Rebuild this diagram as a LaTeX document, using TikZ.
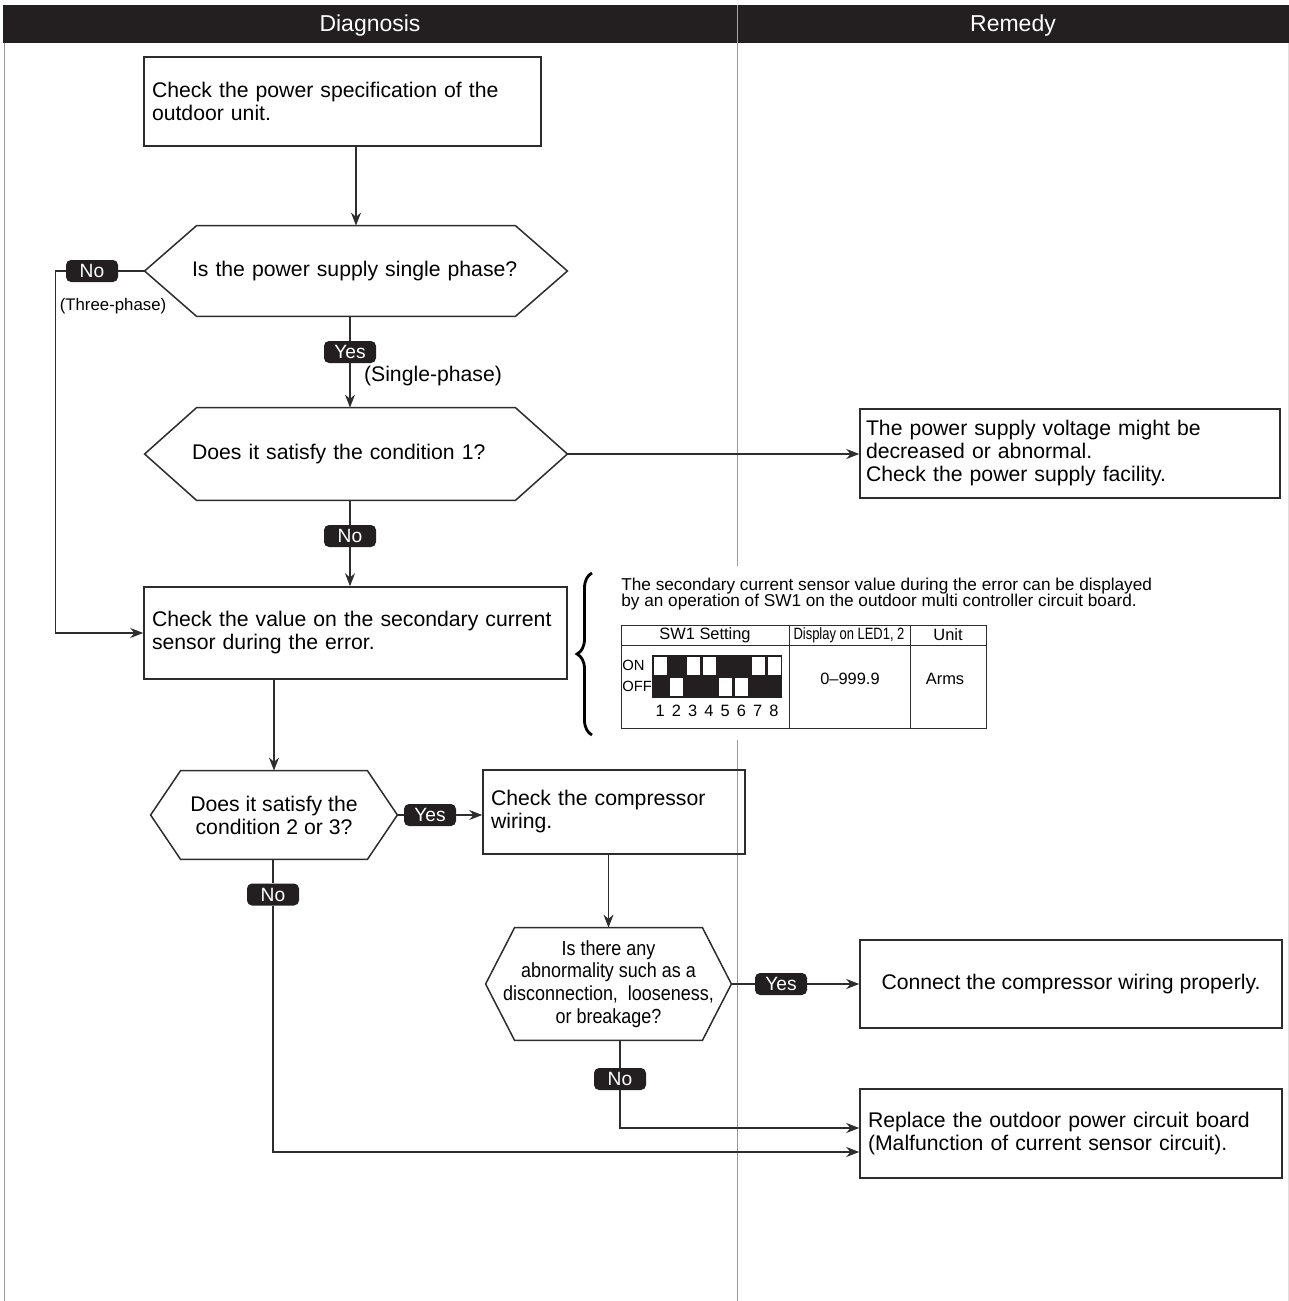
\documentclass[tikz,border=0pt]{standalone}
\usepackage{fontspec}
\setmainfont{Liberation Sans}
\newfontfamily\condfont[FakeStretch=0.88]{Liberation Sans}
\usetikzlibrary{arrows.meta, positioning, calc, decorations.pathreplacing}
\definecolor{hdrblack}{RGB}{35,31,32}
\definecolor{lineclr}{RGB}{45,45,45}

\begin{document}
\begin{tikzpicture}[x=0.5pt, y=-0.5pt, every node/.style={font=\fontsize{10.6}{11.5}\selectfont}]
    \tikzset{box/.style={rectangle, draw=lineclr, line width=0.75pt, inner xsep=4pt, align=left},
             hexa/.style={inner sep=0pt, align=left},
             badge/.style={rectangle, rounded corners=2.5pt, fill=hdrblack, text=white,
                           minimum width=26pt, minimum height=11pt, inner sep=0pt,
                           font=\fontsize{9.6}{10}\selectfont},
             arr/.style={-{Stealth[length=6.5pt, width=5pt]}, line width=0.6pt, draw=lineclr},
             lnk/.style={line width=0.6pt, draw=lineclr},
             tbl/.style={inner sep=0pt, font=\fontsize{8.2}{9}\selectfont}}
    \useasboundingbox (0,0) rectangle (1289,1301);
    % header and columns
    \fill[hdrblack] (3,5) rectangle (1289,43);
    \draw[gray!70, line width=0.4pt] (737,5) -- (737,43);
    \draw[gray!80, line width=0.5pt] (4,43) -- (4,1301);
    \draw[gray!25, line width=0.5pt] (1288,43) -- (1288,1301);
    \draw[gray!80, line width=0.5pt] (737,43) -- (737,566) (737,740) -- (737,1301);
    \node[text=white, font=\fontsize{11.5}{12}\selectfont] (diag) at (370,26) {Diagnosis};
    \node[text=white, font=\fontsize{11.5}{12}\selectfont] (remedy) at (1013,26) {Remedy};

    % diagnosis side
    \node[box, text width=190.5pt, minimum height=44.5pt] (spec) at (342.5,101.5)
        {Check the power specification of the\\outdoor unit.};
    \node[hexa, text width=164pt, minimum width=211pt, minimum height=45pt] (phase) at (356,271)
        {Is the power supply single phase?};
    \node[hexa, text width=164pt, minimum width=211pt, minimum height=46pt] (cond1) at (356,454)
        {Does it satisfy the condition 1?};
    \node[box, text width=203.5pt, minimum height=46pt] (sensor) at (355.5,633)
        {Check the value on the secondary current\\sensor during the error.};
    \node[hexa, align=center, minimum width=123pt, minimum height=44pt] (cond23) at (274,815)
        {Does it satisfy the\\condition 2 or 3?};
    \node[box, text width=123pt, minimum height=42pt] (wiring) at (614,812)
        {Check the compressor\\wiring.};
    \node[hexa, align=center, minimum width=122.5pt, minimum height=56pt,
          font=\condfont\fontsize{10.2}{11.3}\selectfont] (abnorm) at (608.5,984)
        {Is there any\\abnormality such as a\\disconnection,\ \ looseness,\\or breakage?};
    \foreach \n/\s in {phase/26pt, cond1/26pt, cond23/15pt, abnorm/14.5pt}
      \draw[draw=lineclr, line width=0.75pt] (\n.west) -- ([xshift=\s]\n.north west)
        -- ([xshift=-\s]\n.north east) -- (\n.east) -- ([xshift=-\s]\n.south east)
        -- ([xshift=\s]\n.south west) -- cycle;

    % remedy side
    \node[box, inner xsep=3pt, text width=204pt, minimum height=44.5pt] (volt) at (1070,453.5)
        {The power supply voltage might be\\decreased or abnormal.\\Check the power supply facility.};
    \node[box, align=center, minimum width=211pt, minimum height=44pt] (connect) at (1071,984)
        {Connect the compressor wiring properly.};
    \node[box, text width=203pt, minimum height=44.5pt] (replace) at (1071,1133.5)
        {Replace the outdoor power circuit board\\(Malfunction of current sensor circuit).};

    % badges
    \node[badge] (no1) at (92,271) {No};
    \node[badge] (yes1) at (350,352) {Yes};
    \node[badge] (no2) at (350,536) {No};
    \node[badge] (yes2) at (430,815) {Yes};
    \node[badge] (no3) at (273,894.5) {No};
    \node[badge] (yes3) at (781,984) {Yes};
    \node[badge] (no4) at (620,1079) {No};
    \node[font=\fontsize{8.4}{9}\selectfont] (three) at (113,306) {(Three-phase)};
    \node (single) at (433,376) {(Single-phase)};

    % connectors
    \draw[arr] (phase.north |- spec.south) -- (phase.north);
    \draw[lnk] (phase.west) -- (no1.east);
    \draw[arr] (no1.west) -- ++(-5pt,0) |- (sensor.west);
    \draw[lnk] (yes1 |- phase.south) -- (yes1.north);
    \draw[arr] (yes1.south) -- (yes1 |- cond1.north);
    \draw[arr] (cond1.east) -- (cond1.east -| volt.west);
    \draw[lnk] (no2 |- cond1.south) -- (no2.north);
    \draw[arr] (no2.south) -- (no2 |- sensor.north);
    \draw[arr] (cond23.north |- sensor.south) -- (cond23.north);
    \draw[lnk] (cond23.east) -- (yes2.west);
    \draw[arr] (yes2.east) -- (yes2.east -| wiring.west);
    \draw[arr] (abnorm.north |- wiring.south) -- (abnorm.north);
    \draw[lnk] (abnorm.east) -- (yes3.west);
    \draw[arr] (yes3.east) -- (connect.west);
    \draw[lnk] (no4 |- abnorm.south) -- (no4.north);
    \draw[arr] (no4.south) |- ([yshift=2.75pt]replace.west);
    \draw[lnk] (no3 |- cond23.south) -- (no3.north);
    \draw[arr] (no3.south) |- ([yshift=-9.25pt]replace.west);

    % SW1 note
    \draw[decorate, decoration={brace, amplitude=7.5pt}, line width=1.4pt] (592,735) -- (592,573);
    \node[anchor=west, align=left, inner sep=0pt, font=\fontsize{8.6}{8.1}\selectfont] (note) at (621,594)
        {The secondary current sensor value during the error can be displayed\\by an operation of SW1 on the outdoor multi controller circuit board.};
    \draw[draw=lineclr, line width=0.5pt] (621,625) rectangle (986,728)
        (621,645) -- (986,645) (789,625) -- (789,728) (910,625) -- (910,728);
    \node[tbl] (swset) at (705,635) {SW1 Setting};
    \node[tbl] (disp) at (849,635) {\scalebox{0.79}[1]{Display on LED1, 2}};
    \node[tbl] (unit) at (948,635) {Unit};
    \node[tbl] (range) at (850,679) {0--999.9};
    \node[tbl] (arms) at (945,679) {Arms};
    \node[tbl, anchor=west, font=\fontsize{7.4}{8}\selectfont] (on) at (622,665) {ON};
    \node[tbl, anchor=west, font=\fontsize{7.4}{8}\selectfont] (off) at (622,686) {OFF};
    \fill[hdrblack] (652,655) rectangle (782,698);
    \foreach \i/\y in {1/657, 2/678, 3/657, 4/657, 5/678, 6/678, 7/657, 8/657}
      \fill[white] ({652+(\i-1)*16.25+2},\y) rectangle ++(13,18);
    \foreach \i in {1,...,8}
      \node[tbl] (n\i) at ({652+(\i-0.5)*16.25},711) {\i};
\end{tikzpicture}
\end{document}
